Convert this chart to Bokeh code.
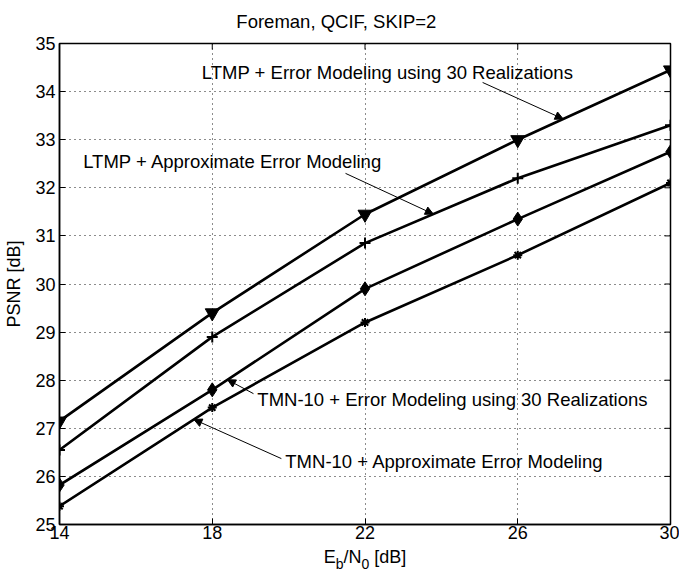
import numpy as np
from bokeh.plotting import figure
from bokeh.layouts import column
from bokeh.models import Label, Arrow, NormalHead, FixedTicker, Range1d
from bokeh.core.properties import value
from bokeh.embed import file_html
from bokeh.resources import INLINE

# Eb/N0 operating points [dB]
snr = [14, 18, 22, 26, 30]

# PSNR [dB] per scheme
ltmp_30 = [27.15, 29.4, 31.45, 33.0, 34.45]       # LTMP + error modeling, 30 realizations
ltmp_approx = [26.55, 28.9, 30.85, 32.2, 33.3]    # LTMP + approximate error modeling
tmn_30 = [25.82, 27.8, 29.9, 31.35, 32.75]        # TMN-10 + error modeling, 30 realizations
tmn_approx = [25.38, 27.43, 29.2, 30.6, 32.1]     # TMN-10 + approximate error modeling

x_ticks = [14, 18, 22, 26, 30]
y_ticks = [25, 26, 27, 28, 29, 30, 31, 32, 33, 34, 35]

title_text = "Foreman, QCIF, SKIP=2"
y_label = "PSNR [dB]"

FONT = "Liberation Sans"
X0, X1, Y0, Y1 = 14, 30, 25, 35
TITLE_H = 32
STRIP_H = 26


def text_strip(height):
    """A bare figure sharing the x scale of the axes, used for text outside the frame."""
    f = figure(width=679, height=height, x_range=p.x_range,
               y_range=Range1d(0, height),
               output_backend="svg", toolbar_location=None,
               min_border_left=59, min_border_right=9,
               min_border_top=0, min_border_bottom=0,
               x_axis_location=None, y_axis_location=None)
    f.outline_line_color = None
    f.grid.visible = False
    f.background_fill_color = "white"
    f.border_fill_color = "white"
    return f


p = figure(width=679, height=546 - TITLE_H,
           x_range=Range1d(X0, X1), y_range=Range1d(Y0, Y1),
           output_backend="svg", toolbar_location=None,
           min_border_left=59, min_border_right=9,
           min_border_top=11, min_border_bottom=22)
p.background_fill_color = "white"
p.border_fill_color = "white"
p.outline_line_color = "black"
p.outline_line_width = 1.5

p.xaxis.ticker = FixedTicker(ticks=x_ticks)
p.yaxis.ticker = FixedTicker(ticks=y_ticks)
for ax in p.axis:
    ax.major_label_text_font = FONT
    ax.major_label_text_font_size = "18px"
    ax.major_label_text_color = "black"
    ax.major_tick_in = 6
    ax.major_tick_out = 0
    ax.minor_tick_line_color = None
    ax.axis_line_width = 1.5
    ax.axis_line_color = "black"
    ax.major_tick_line_color = "black"
p.xaxis.major_label_standoff = 1
p.yaxis.major_label_standoff = 4
p.yaxis.axis_label = y_label
p.yaxis.axis_label_text_font = FONT
p.yaxis.axis_label_text_font_size = "18px"
p.yaxis.axis_label_text_font_style = "normal"
p.yaxis.axis_label_text_color = "black"
p.yaxis.axis_label_standoff = 8

p.grid.grid_line_color = "black"
p.grid.grid_line_dash = "1 4"
p.grid.grid_line_width = 1
p.grid.grid_line_alpha = 0.9

# inward ticks mirrored on the top and right edges (6 px long)
tick_dy = 6 / 481 * (Y1 - Y0)
tick_dx = 6 / 611 * (X1 - X0)
p.segment(x0=x_ticks, y0=[Y1] * len(x_ticks), x1=x_ticks,
          y1=[Y1 - tick_dy] * len(x_ticks), line_color="black", line_width=1)
p.segment(x0=[X1] * len(y_ticks), y0=y_ticks, x1=[X1 - tick_dx] * len(y_ticks),
          y1=y_ticks, line_color="black", line_width=1)

# curves
lw = 2.6
p.line(snr, ltmp_30, line_color="black", line_width=lw)
p.scatter(snr, ltmp_30, marker="inverted_triangle", size=14,
          fill_color="black", line_color="black")

p.line(snr, ltmp_approx, line_color="black", line_width=lw)
p.scatter(snr, ltmp_approx, marker="cross", size=11,
          line_color="black", line_width=2)

p.line(snr, tmn_30, line_color="black", line_width=lw)
p.scatter(snr, tmn_30, marker="diamond", size=14,
          fill_color="black", line_color="black")

p.line(snr, tmn_approx, line_color="black", line_width=lw)
p.scatter(snr, tmn_approx, marker="asterisk", size=9,
          line_color="black", line_width=2)

# annotations: text centre, arrow start, arrow tip on a curve
def on_curve(series, xv):
    return xv, float(np.interp(xv, snr, series))

notes = [
    ("LTMP + Error Modeling using 30 Realizations", 22.59, 34.40,
     (25.08, 34.19), on_curve(ltmp_30, 27.19)),
    ("LTMP + Approximate Error Modeling", 18.54, 32.55,
     (21.49, 32.30), on_curve(ltmp_approx, 23.79)),
    ("TMN-10 + Error Modeling using 30 Realizations", 24.29, 27.60,
     (19.08, 27.72), on_curve(tmn_30, 18.40)),
    ("TMN-10 + Approximate Error Modeling", 24.08, 26.30,
     (19.81, 26.37), on_curve(tmn_approx, 17.52)),
]
for text, tx, ty, start, tip in notes:
    p.add_layout(Label(x=tx, y=ty, text=text, text_align="center",
                       text_baseline="middle", text_font=FONT,
                       text_font_size="18.5px", text_color="black"))
    p.add_layout(Arrow(x_start=start[0], y_start=start[1],
                       x_end=tip[0], y_end=tip[1],
                       line_color="black", line_width=1,
                       end=NormalHead(size=8, fill_color="black",
                                      line_color="black")))

# title strip above the axes
tt = text_strip(TITLE_H)
tt.text(x=[21.25], y=[TITLE_H - 21], text=[title_text],
        text_align="center", text_baseline="middle",
        text_font=value(FONT), text_font_size="18.5px", text_color="black")

# x-axis title strip: E_b/N_0 [dB] with subscripts (y in px from strip bottom)
xl = text_strip(STRIP_H)
main_parts = ["E", "/N", "[dB]"]
main_dx = [-41.3, -21.5, 9.3]
sub_parts = ["b", "0"]
sub_dx = [-29.3, -3.5]
xl.text(x=[22] * 3, y=[STRIP_H - 10.8] * 3, text=main_parts, x_offset=main_dx,
        text_align="left", text_baseline="middle",
        text_font=value(FONT), text_font_size="18px", text_color="black")
xl.text(x=[22] * 2, y=[STRIP_H - 17.5] * 2, text=sub_parts, x_offset=sub_dx,
        text_align="left", text_baseline="middle",
        text_font=value(FONT), text_font_size="14px", text_color="black")

page = column(tt, p, xl, spacing=0)
open("out.html", "w").write(file_html(page, INLINE))
